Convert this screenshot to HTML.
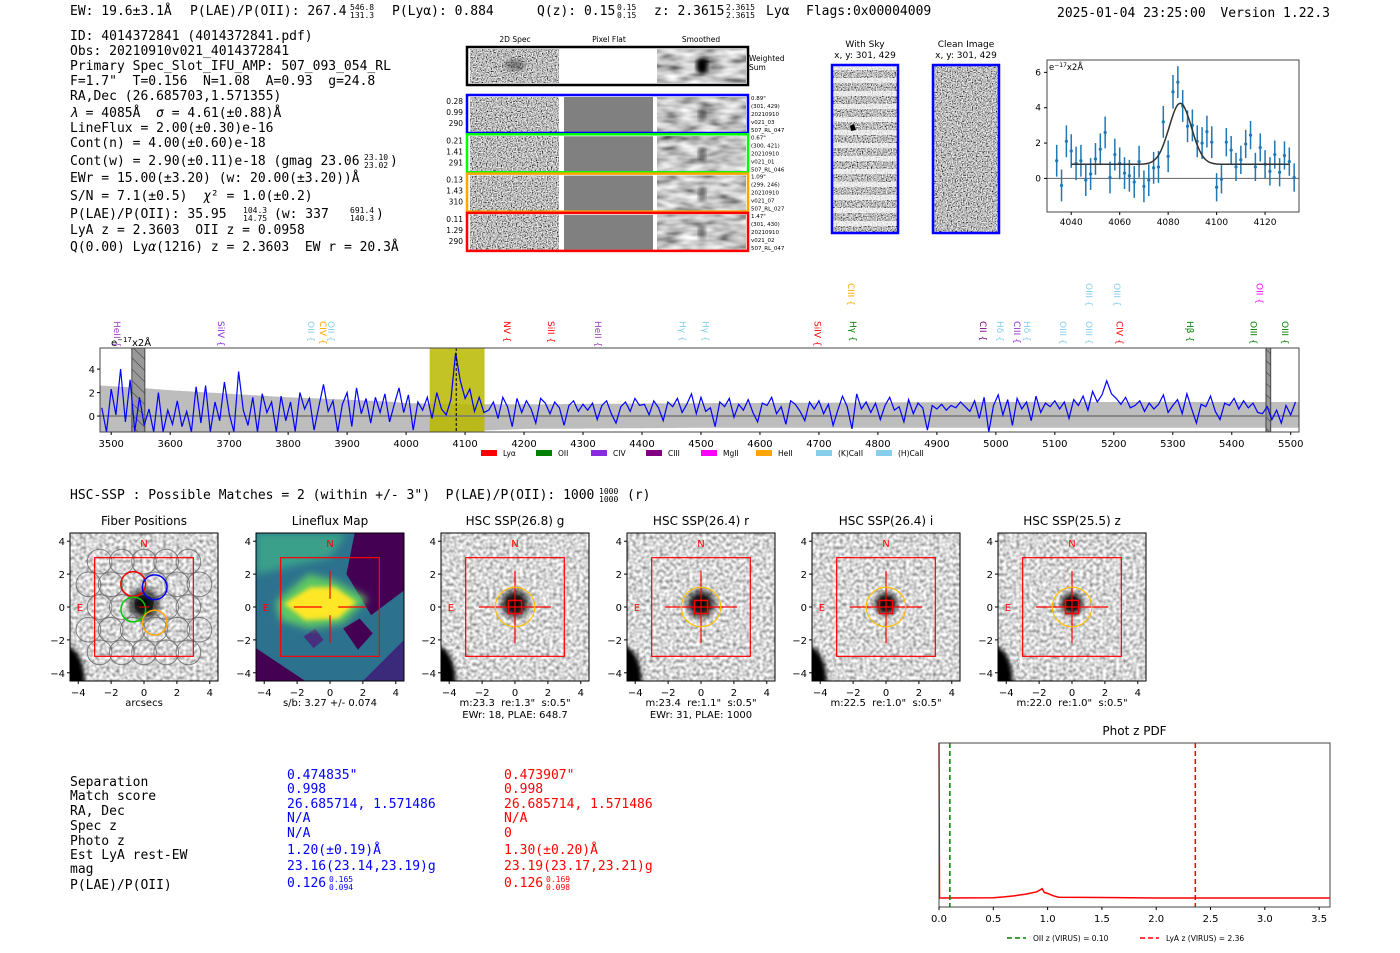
<!DOCTYPE html>
<html><head><meta charset="utf-8">
<style>
html,body{margin:0;padding:0;background:#fff;}
svg{display:block;}
text{white-space:pre;}
.mono{font-family:"DejaVu Sans Mono","Liberation Mono",monospace;font-size:13px;}
.sans{font-family:"DejaVu Sans","Liberation Sans",sans-serif;}
</style></head>
<body>
<svg id="fig" width="1400" height="953" viewBox="0 0 1400 953" xmlns="http://www.w3.org/2000/svg" xml:space="preserve" fill="#000">
<defs>
<filter id="nz" x="0" y="0" width="1" height="1"><feTurbulence type="fractalNoise" baseFrequency="0.8" numOctaves="1" seed="4"/><feColorMatrix type="matrix" values="2.2 0 0 0 -0.6  2.2 0 0 0 -0.6  2.2 0 0 0 -0.6  0 0 0 0 1"/></filter>
<filter id="sm" x="0" y="0" width="1" height="1"><feTurbulence type="fractalNoise" baseFrequency="0.05 0.14" numOctaves="2" seed="7"/><feColorMatrix type="matrix" values="1.3 0 0 0 -0.1  1.3 0 0 0 -0.1  1.3 0 0 0 -0.1  0 0 0 0 1"/></filter>
<filter id="cn" x="0" y="0" width="1" height="1"><feTurbulence type="fractalNoise" baseFrequency="0.3" numOctaves="1" seed="11"/><feColorMatrix type="matrix" values="1.4 0 0 0 -0.02  1.4 0 0 0 -0.02  1.4 0 0 0 -0.02  0 0 0 0 1"/></filter>
<filter id="bl4"><feGaussianBlur stdDeviation="4"/></filter>
<filter id="bl2"><feGaussianBlur stdDeviation="2"/></filter>
<pattern id="stripes" width="10" height="13" patternUnits="userSpaceOnUse"><rect x="0" y="0" width="10" height="5" fill="#fff" fill-opacity="0.7"/></pattern>
<pattern id="hatch" width="8" height="8" patternUnits="userSpaceOnUse" patternTransform="rotate(-45)"><rect width="8" height="8" fill="#999"/><line x1="0" y1="0" x2="0" y2="8" stroke="#333" stroke-width="1"/></pattern>
<radialGradient id="blob"><stop offset="0" stop-color="#000" stop-opacity="1"/><stop offset="0.45" stop-color="#000" stop-opacity="0.85"/><stop offset="1" stop-color="#000" stop-opacity="0"/></radialGradient>
</defs>

<!-- HEADER -->
<g class="mono">
<text x="70" y="15">EW: 19.6±3.1Å</text>
<text x="190" y="15">P(LAE)/P(OII): 267.4</text>
<text x="350" y="10" font-size="8">546.8</text><text x="350" y="18" font-size="8">131.3</text>
<text x="392" y="15">P(Lyα): 0.884</text>
<text x="537" y="15">Q(z): 0.15</text>
<text x="617" y="10" font-size="8">0.15</text><text x="617" y="18" font-size="8">0.15</text>
<text x="654" y="15">z: 2.3615</text>
<text x="726" y="10" font-size="8">2.3615</text><text x="726" y="18" font-size="8">2.3615</text>
<text x="766" y="15">Lyα</text>
<text x="806" y="15">Flags:0x00004009</text>
<text x="1057" y="17">2025-01-04 23:25:00</text>
<text x="1330" y="17" text-anchor="end">Version 1.22.3</text>
</g>

<!-- LEFT INFO BLOCK -->
<g class="mono">
<text x="70" y="40">ID: 4014372841 (4014372841.pdf)</text>
<text x="70" y="55">Obs: 20210910v021_4014372841</text>
<text x="70" y="70">Primary Spec_Slot_IFU_AMP: 507_093_054_RL</text>
<text x="70" y="85">F=1.7"  T=0.156  N=1.08  A=0.93  g=24.8</text>
<text x="70" y="100">RA,Dec (26.685703,1.571355)</text>
<text x="70" y="117"><tspan font-style="italic">λ</tspan> = 4085Å  <tspan font-style="italic">σ</tspan> = 4.61(±0.88)Å</text>
<text x="70" y="132">LineFlux = 2.00(±0.30)e-16</text>
<text x="70" y="147">Cont(n) = 4.00(±0.60)e-18</text>
<text x="70" y="165">Cont(w) = 2.90(±0.11)e-18 (gmag 23.06</text>
<text x="364" y="160" font-size="8">23.10</text><text x="364" y="168" font-size="8">23.02</text><text x="390" y="165">)</text>
<text x="70" y="182">EWr = 15.00(±3.20) (w: 20.00(±3.20))Å</text>
<text x="70" y="200">S/N = 7.1(±0.5)  <tspan font-style="italic">χ</tspan>² = 1.0(±0.2)</text>
<text x="70" y="218">P(LAE)/P(OII): 35.95</text>
<text x="243" y="213" font-size="8">104.3</text><text x="243" y="221" font-size="8">14.75</text>
<text x="274" y="218">(w: 337</text>
<text x="350" y="213" font-size="8">691.4</text><text x="350" y="221" font-size="8">140.3</text><text x="376" y="218">)</text>
<text x="70" y="234">LyA z = 2.3603  OII z = 0.0958</text>
<text x="70" y="251">Q(0.00) Ly<tspan font-style="italic">α</tspan>(1216) z = 2.3603  EW r = 20.3Å</text>
</g>

<!-- 2D SPECTRA PANEL -->
<g id="spec2d">
<text class="sans" font-size="7.5" x="515" y="42" text-anchor="middle">2D Spec</text>
<text class="sans" font-size="7.5" x="609" y="42" text-anchor="middle">Pixel Flat</text>
<text class="sans" font-size="7.5" x="701" y="42" text-anchor="middle">Smoothed</text>
<g>
<rect x="470" y="49" width="89" height="34" filter="url(#nz)"/>
<rect x="657" y="49" width="89" height="34" filter="url(#sm)"/>
<ellipse cx="702" cy="66" rx="6" ry="8" fill="#000" filter="url(#bl2)"/>
<ellipse cx="515" cy="65" rx="10" ry="6" fill="#000" opacity="0.35" filter="url(#bl2)"/>
<rect x="467" y="47" width="281" height="38" fill="none" stroke="#000" stroke-width="2.5"/>
<text class="sans" font-size="7.5" x="749" y="61">Weighted</text><text class="sans" font-size="7.5" x="749" y="70">Sum</text>
</g>
</g>

<!-- SKY CUTOUTS -->
<g>
<text class="sans" font-size="9" x="865" y="47" text-anchor="middle">With Sky</text>
<text class="sans" font-size="9" x="865" y="58" text-anchor="middle">x, y: 301, 429</text>
<rect x="832" y="65" width="66" height="168" filter="url(#nz)"/>
<rect x="832" y="65" width="66" height="168" fill="url(#stripes)"/>
<path d="M850 126 l4 -2 l2 6 l-5 1z" fill="#000"/>
<rect x="832" y="65" width="66" height="168" fill="none" stroke="#0000ff" stroke-width="2.5"/>
</g>
<g>
<text class="sans" font-size="9" x="966" y="47" text-anchor="middle">Clean Image</text>
<text class="sans" font-size="9" x="966" y="58" text-anchor="middle">x, y: 301, 429</text>
<rect x="933" y="65" width="66" height="168" filter="url(#nz)"/>
<rect x="933" y="65" width="66" height="168" fill="none" stroke="#0000ff" stroke-width="2.5"/>
</g>

<g id="fitplot"></g>
<g id="spectrum"></g>

<g class="mono">
<text x="70" y="499">HSC-SSP : Possible Matches = 2 (within +/- 3")  P(LAE)/P(OII): 1000</text>
<text x="599" y="494" style="font-size:8px">1000</text><text x="599" y="502" style="font-size:8px">1000</text>
<text x="627" y="499">(r)</text>
</g>

<g id="cutouts"></g>

<!-- MATCH TABLE -->
<g class="mono">
<g>
<text x="70" y="786">Separation</text><text x="70" y="800">Match score</text><text x="70" y="815">RA, Dec</text>
<text x="70" y="830">Spec z</text><text x="70" y="845">Photo z</text><text x="70" y="859">Est LyA rest-EW</text>
<text x="70" y="873">mag</text><text x="70" y="889">P(LAE)/P(OII)</text>
</g>
<g fill="#0000ff">
<text x="287" y="779">0.474835"</text><text x="287" y="793">0.998</text>
<text x="287" y="808">26.685714, 1.571486</text><text x="287" y="822">N/A</text>
<text x="287" y="837">N/A</text><text x="287" y="854">1.20(±0.19)Å</text>
<text x="287" y="870">23.16(23.14,23.19)g</text><text x="287" y="887">0.126</text>
<text x="329" y="882" font-size="8">0.165</text><text x="329" y="890" font-size="8">0.094</text>
</g>
<g fill="#ff0000">
<text x="504" y="779">0.473907"</text><text x="504" y="793">0.998</text>
<text x="504" y="808">26.685714, 1.571486</text><text x="504" y="822">N/A</text>
<text x="504" y="837">0</text><text x="504" y="854">1.30(±0.20)Å</text>
<text x="504" y="870">23.19(23.17,23.21)g</text><text x="504" y="887">0.126</text>
<text x="546" y="882" font-size="8">0.169</text><text x="546" y="890" font-size="8">0.098</text>
</g>
</g>

<g id="pdfplot"></g>
</svg>

<script>
// ---------- DATA ----------
const specStart = 3484, specStep = 8;
const specFlux = [
0.7,-1.5,2.3,0.1,4.0,-0.5,3.1,-1.3,1.6,-0.8,0.6,-1.6,2.0,-1.5,0.5,-0.7,1.3,-0.9,0.4,-1.4,2.5,-0.6,2.6,-1.4,1.2,-0.4,2.9,0.2,
-1.5,3.8,0.5,-0.8,1.6,-1.4,1.9,0.3,1.2,-1.5,1.7,-0.4,1.2,-1.3,2.0,0.6,1.5,-1.2,0.8,2.7,0.4,1.3,-1.4,1.0,2.0,
-0.9,2.4,0.2,1.5,-0.6,1.6,0.3,1.9,-0.5,1.0,2.4,0.3,1.8,-1.2,1.2,0.5,1.6,-0.2,2.0,0.6,0.1,1.4,5.4,3.0,1.5,
2.3,0.4,1.6,0.3,0.5,1.2,-0.2,1.6,0.8,-0.9,1.5,0.3,1.3,0.6,-0.6,1.5,1.1,0.2,1.2,0.7,-0.8,0.9,1.3,0.4,1.0,
0.5,1.1,-0.3,0.9,1.3,0.2,-0.6,0.8,1.2,0.4,1.5,0.9,1.0,0.1,1.3,0.7,-0.4,1.2,0.8,1.5,0.3,1.0,1.9,0.2,1.6,
0.4,0.7,-0.9,1.2,0.8,1.5,-0.1,1.0,0.5,1.4,0.3,-0.5,1.1,0.9,1.6,0.2,0.8,-0.7,1.3,1.0,0.4,-0.4,1.2,0.6,1.3,
0.2,1.0,-0.8,0.5,1.7,0.8,-1.1,1.9,0.6,1.2,0.3,1.1,-0.3,0.9,1.6,0.5,0.8,-0.5,1.4,0.2,1.1,0.7,-1.2,0.9,0.6,
1.0,0.5,0.9,0.7,1.2,0.8,0.4,1.3,-0.2,1.6,-1.5,0.9,1.8,0.1,1.4,-0.8,1.5,0.6,1.2,-0.4,1.7,0.3,1.1,0.8,1.3,
0.6,1.2,-0.2,1.4,0.9,1.7,0.5,2.1,1.2,1.8,3.0,1.9,1.5,1.0,1.6,0.7,0.9,1.3,0.4,1.1,0.6,1.0,1.8,0.3,0.9,
1.4,0.2,1.9,0.6,-0.6,1.0,0.8,1.7,0.4,-0.3,1.1,0.9,1.5,0.6,1.3,0.7,1.1,0.3,0.2,0.8,-0.3,0.5,-0.6,0.9,0.1,1.2];
const errWave = [3481,3550,3600,3700,3800,3900,3980,4000,4100,4200,4500,4520,5000,5500,5514];
const errHi = [2.6,2.4,2.2,1.9,1.6,1.4,1.2,1.1,1.0,1.0,1.1,1.1,1.2,1.2,1.2];
const errLo = [-2.0,-2.0,-2.0,-2.0,-1.8,-1.6,-1.5,-1.4,-1.3,-1.1,-1.0,-1.0,-1.0,-1.0,-1.0];
const specXTicks = [3500,3600,3700,3800,3900,4000,4100,4200,4300,4400,4500,4600,4700,4800,4900,5000,5100,5200,5300,5400,5500];
const specYTicks = [0,2,4];
const lineNames = ["HeII","SiIV","OII","CIV","OII","NV","SiII","HeII","Hγ","Hγ","CIII","SiIV","Hγ","CII","Hδ","CIII","Hδ","OIII","OIII","OIII","OIII","CIV","Hβ","OII","OIII","OIII"];
const lineWaves = [3510,3686,3839,3859,3873,4171,4246,4325,4469,4508,4754,4698,4758,4978,5007,5036,5053,5114,5158,5158,5205,5210,5329,5447,5437,5490];
const lineColors = ["#a040c0","#8a2be2","#87ceeb","#ffa500","#87ceeb","#ff0000","#ff0000","#a040c0","#87ceeb","#87ceeb","#ffa500","#ff0000","#008000","#800080","#87ceeb","#9932cc","#87ceeb","#87ceeb","#87ceeb","#87ceeb","#87ceeb","#ff0000","#008000","#ff00ff","#008000","#008000"];
const lineHigh = [0,0,0,0,0,0,0,0,0,0,1,0,0,0,0,0,0,0,0,1,1,0,0,1,0,0];
const legendNames = ["Lyα","OII","CIV","CIII","MgII","HeII","(K)CaII","(H)CaII"];
const legendColors = ["#ff0000","#008000","#8a2be2","#800080","#ff00ff","#ffa500","#87ceeb","#87ceeb"];

const fitWave = [4034,4036,4038,4040,4042,4044,4046,4048,4050,4052,4054,4056,4058,4060,4062,4064,4066,4068,4070,4072,4074,4076,4078,4080,4082,4084,4086,4088,4090,4092,4094,4096,4098,4100,4102,4104,4106,4108,4110,4112,4114,4116,4118,4120,4122,4124,4126,4128,4130,4132];
const fitFlux = [1.0,-0.4,2.1,1.55,0.85,1.0,-0.1,0.25,1.1,1.65,2.6,0.05,1.35,0.85,0.3,0.15,-0.2,0.95,-0.45,-0.1,0.6,0.65,3.2,1.25,4.9,5.45,4.1,2.95,3.0,2.1,2.0,2.65,2.05,-0.5,-0.05,2.05,1.6,0.65,1.05,1.95,2.45,0.65,1.75,0.8,0.4,1.35,0.35,1.3,0.95,0.05];
const fitErr = [0.9,0.9,0.9,0.95,0.95,0.9,0.9,0.9,0.9,0.9,0.9,0.9,0.9,0.9,0.9,0.9,0.9,0.9,0.9,0.9,0.9,0.9,0.9,0.9,0.95,0.9,0.9,0.9,0.9,0.9,0.9,0.9,0.9,0.8,0.8,0.8,0.8,0.8,0.8,0.8,0.8,0.8,0.8,0.8,0.8,0.8,0.8,0.8,0.8,0.8];
const fitParams = [4085, 4.61, 3.45, 0.8]; // center, sigma, amplitude, continuum
const fitXTicks = [4040,4060,4080,4100,4120];
const fitYTicks = [0,2,4,6];

const pdfZ = [0,0.005,0.02,0.5,0.6,0.7,0.8,0.9,0.95,0.97,1.0,1.05,1.1,1.5,2.0,3.6];
const pdfVal = [1.0,0.0,0.0,0.002,0.007,0.015,0.025,0.04,0.06,0.035,0.03,0.015,0.005,0.003,0.0,0.0];
const pdfXTicks = [0.0,0.5,1.0,1.5,2.0,2.5,3.0,3.5];
const pdfMarkers = [0.10, 2.36];

const cutTitles = ["Fiber Positions","Lineflux Map","HSC SSP(26.8) g","HSC SSP(26.4) r","HSC SSP(26.4) i","HSC SSP(25.5) z"];
const cutCap1 = ["arcsecs","s/b: 3.27 +/- 0.074","m:23.3  re:1.3\"  s:0.5\"","m:23.4  re:1.1\"  s:0.5\"","m:22.5  re:1.0\"  s:0.5\"","m:22.0  re:1.0\"  s:0.5\""];
const cutCap2 = ["","","EWr: 18, PLAE: 648.7","EWr: 31, PLAE: 1000","",""];
const cutTicks = [-4,-2,0,2,4];
const fiberColX = [-0.65,0.65,-0.65,0.65];
const fiberColY = [1.4,1.2,-0.15,-0.95];
const fiberColC = ["#ff0000","#0000ff","#00cc00","#ffa500"];

// ---------- HELPERS ----------
const NS = "http://www.w3.org/2000/svg";
function mk(tag, parent, attrs){const e=document.createElementNS(NS,tag);for(const k in attrs)e.setAttribute(k,attrs[k]);parent.appendChild(e);return e;}
function txt(parent, x, y, s, size, anchor, color){const t=mk("text",parent,{x:x,y:y,"font-size":size,"text-anchor":anchor||"start","class":"sans",fill:color||"#000"});t.textContent=s;return t;}
function interp(xs, ys, x){if(x<=xs[0])return ys[0];for(let i=1;i<xs.length;i++){if(x<=xs[i]){const f=(x-xs[i-1])/(xs[i]-xs[i-1]);return ys[i-1]+f*(ys[i]-ys[i-1]);}}return ys[ys.length-1];}

// ---------- 2D spectra rows ----------
(function(){
  const g=document.getElementById("spec2d");
  const rowColors=["#0000ff","#00ff00","#ffa500","#ff0000"];
  const rowL=[["0.28","0.99","290"],["0.21","1.41","291"],["0.13","1.43","310"],["0.11","1.29","290"]];
  const rowR=[["0.89\"","(301, 429)","20210910","v021_03","507_RL_047"],["0.67\"","(300, 421)","20210910","v021_01","507_RL_046"],["1.09\"","(299, 246)","20210910","v021_07","507_RL_027"],["1.47\"","(301, 430)","20210910","v021_02","507_RL_047"]];
  for(let r=0;r<4;r++){
    const y=95+r*39.3;
    const row=mk("g",g,{});
    
    
    mk("rect",row,{x:470,y:y+2,width:89,height:35,filter:"url(#nz)"});
    mk("rect",row,{x:564,y:y+2,width:89,height:35,fill:"#808080"});
    mk("rect",row,{x:657,y:y+2,width:89,height:35,filter:"url(#sm)"});
    mk("ellipse",row,{cx:702,cy:y+20,rx:4,ry:7,fill:"#000",opacity:0.45,filter:"url(#bl2)"});
    mk("rect",row,{x:467,y:y,width:281,height:38,fill:"none",stroke:rowColors[r],"stroke-width":2.5});
    for(let k=0;k<3;k++) txt(row,463,y+9+k*11,rowL[r][k],7.5,"end");
    for(let k=0;k<5;k++) txt(row,751,y+5+k*8,rowR[r][k],5.5,"start");
  }
})();

// ---------- Line fit plot ----------
(function(){
  const g=document.getElementById("fitplot");
  const L=1047,R=1299,T=60,B=212;
  const x0=4030,x1=4134,y0=-1.9,y1=6.7;
  const X=w=>L+(w-x0)/(x1-x0)*(R-L), Y=v=>B-(v-y0)/(y1-y0)*(B-T);
  mk("line",g,{x1:L,x2:R,y1:Y(0),y2:Y(0),stroke:"#777","stroke-width":1.2});
  for(let i=0;i<fitWave.length;i++){
    const p=mk("g",g,{});
    
    
    mk("line",p,{x1:X(fitWave[i]),x2:X(fitWave[i]),y1:Y(fitFlux[i]-fitErr[i]),y2:Y(fitFlux[i]+fitErr[i]),stroke:"#1f77b4","stroke-width":1.5});
    mk("circle",p,{cx:X(fitWave[i]),cy:Y(fitFlux[i]),r:1.6,fill:"#1f77b4"});
  }
  let d="";
  for(let w=4040;w<=4130;w+=0.5){const v=fitParams[3]+fitParams[2]*Math.exp(-0.5*Math.pow((w-fitParams[0])/fitParams[1],2));d+=(d?"L":"M")+X(w).toFixed(1)+" "+Y(v).toFixed(1);}
  const m=mk("path",g,{d:d,fill:"none",stroke:"#333","stroke-width":1.5});
  
  
  mk("rect",g,{x:L,y:T,width:R-L,height:B-T,fill:"none",stroke:"#444","stroke-width":1});
  fitXTicks.forEach(t=>{mk("line",g,{x1:X(t),x2:X(t),y1:B,y2:B+3,stroke:"#000"});txt(g,X(t),B+13,String(t),9,"middle");});
  fitYTicks.forEach(t=>{mk("line",g,{x1:L-3,x2:L,y1:Y(t),y2:Y(t),stroke:"#000"});txt(g,L-6,Y(t)+3,String(t),9,"end");});
  const u=txt(g,L+2,T+10,"",8.5,"start");u.innerHTML='e<tspan dy="-3" font-size="6">−17</tspan><tspan dy="3">x2Å</tspan>';
})();

// ---------- Full spectrum ----------
(function(){
  const g=document.getElementById("spectrum");
  const L=100,R=1299,T=348,B=432;
  const x0=3481,x1=5514,y0=-1.36,y1=5.8;
  const X=w=>L+(w-x0)/(x1-x0)*(R-L), Y=v=>B-(Math.max(y0,Math.min(y1,v))-y0)/(y1-y0)*(B-T);
  const clip=mk("clipPath",g,{id:"specclip"});mk("rect",clip,{x:L,y:T,width:R-L,height:B-T});
  const inner=mk("g",g,{"clip-path":"url(#specclip)"});
  let up="",lo="";
  for(let w=x0;w<=x1;w+=4){up+=(up?"L":"M")+X(w).toFixed(1)+" "+Y(interp(errWave,errHi,w)).toFixed(1);}
  for(let w=x1;w>=x0;w-=4){lo+="L"+X(w).toFixed(1)+" "+Y(interp(errWave,errLo,w)).toFixed(1);}
  const band=mk("path",inner,{d:up+lo+"Z",fill:"#bdbdbd"});
  
  
  const reg=mk("rect",inner,{x:X(4040),y:T,width:X(4133)-X(4040),height:B-T,fill:"#b8b800",opacity:0.85});
  
  
  [[3535,3557],[5458,5466]].forEach(b=>{const h=mk("rect",inner,{x:X(b[0]),y:T,width:X(b[1])-X(b[0]),height:B-T,fill:"url(#hatch)",stroke:"#444","stroke-width":1});});
  mk("line",inner,{x1:L,x2:R,y1:Y(0),y2:Y(0),stroke:"#777","stroke-width":1.5});
  let d="";
  for(let i=0;i<specFlux.length;i++){d+=(i?"L":"M")+X(specStart+i*specStep).toFixed(1)+" "+Y(specFlux[i]).toFixed(1);}
  const ln=mk("path",inner,{d:d,fill:"none",stroke:"#0000ff","stroke-width":1.2});
  
  
  mk("line",inner,{x1:X(4085),x2:X(4085),y1:T,y2:B,stroke:"#000","stroke-width":1,"stroke-dasharray":"3,2"});
  mk("rect",g,{x:L,y:T,width:R-L,height:B-T,fill:"none",stroke:"#444","stroke-width":1});
  specXTicks.forEach(t=>{mk("line",g,{x1:X(t),x2:X(t),y1:B,y2:B+3,stroke:"#000"});txt(g,X(t),B+15,String(t),10,"middle");});
  specYTicks.forEach(t=>{mk("line",g,{x1:L-3,x2:L,y1:Y(t),y2:Y(t),stroke:"#000"});txt(g,L-5,Y(t)+4,String(t),10,"end");});
  const u=txt(g,111,346,"",10,"start");u.innerHTML='e<tspan dy="-4" font-size="7">−17</tspan><tspan dy="4">x2Å</tspan>';
  for(let i=0;i<lineNames.length;i++){
    const x=X(lineWaves[i]), y=lineHigh[i]?283:321;
    const t=mk("text",g,{x:x,y:y,"font-size":9,"class":"sans",fill:lineColors[i],transform:"rotate(90 "+x+" "+y+")",dy:"3"});
    t.textContent=lineNames[i]+" {";
    
    
  }
  for(let i=0;i<legendNames.length;i++){
    const lx=481+i*55+(i>5?(i-5)*5:0);
    const e=mk("g",g,{});
    
    
    mk("rect",e,{x:lx,y:450,width:16,height:6,fill:legendColors[i]});
    txt(e,lx+22,456,legendNames[i],7.5,"start");
  }
})();

// ---------- Cutouts ----------
(function(){
  const g=document.getElementById("cutouts");
  const lefts=[70,256,441,627,812,998], T=533, S=148, sc=S/9;
  for(let p=0;p<6;p++){
    const L=lefts[p], cx=L+S/2, cy=T+S/2;
    const X=a=>cx+a*sc, Y=a=>cy-a*sc;
    const pg=mk("g",g,{});
    
    
    const cp=mk("clipPath",pg,{id:"cclip"+p});mk("rect",cp,{x:L,y:T,width:S,height:S});
    const im=mk("g",pg,{"clip-path":"url(#cclip"+p+")"});
    if(p===1){
      mk("rect",im,{x:L,y:T,width:S,height:S,fill:"#2c728e"});
      mk("polygon",im,{points:[[X(-4.5),Y(4.5)],[X(1),Y(4.5)],[X(0),Y(3)],[X(-4.5),Y(2)]].join(" "),fill:"#3aa08a",filter:"url(#bl4)"});
      mk("polygon",im,{points:[[X(1.5),Y(4.5)],[X(4.5),Y(4.5)],[X(4.5),Y(1)],[X(2.5),Y(-0.5)],[X(1),Y(2)]].join(" "),fill:"#440154"});
      mk("polygon",im,{points:[[X(-4.5),Y(-2.5)],[X(-1.5),Y(-4.5)],[X(-4.5),Y(-4.5)]].join(" "),fill:"#440154"});
      mk("polygon",im,{points:[[X(3),Y(-3.5)],[X(4.5),Y(-2)],[X(4.5),Y(-4.5)],[X(2),Y(-4.5)]].join(" "),fill:"#3b2a7a"});
      mk("polygon",im,{points:[[X(0.8),Y(-1.3)],[X(1.8),Y(-0.7)],[X(2.6),Y(-1.6)],[X(1.7),Y(-2.6)]].join(" "),fill:"#440154"});
      mk("polygon",im,{points:[[X(-1.6),Y(-1.8)],[X(-0.9),Y(-1.3)],[X(-0.4),Y(-2)],[X(-1),Y(-2.5)]].join(" "),fill:"#46307e"});
      mk("polygon",im,{points:[[X(-3.3),Y(0.3)],[X(-1.3),Y(2)],[X(0.3),Y(1.6)],[X(2.3),Y(0.5)],[X(0.8),Y(-1)],[X(-1.3),Y(-1.3)],[X(-3),Y(-0.8)]].join(" "),fill:"#5ec962",filter:"url(#bl4)"});
      mk("polygon",im,{points:[[X(-2.8),Y(0.2)],[X(-1.2),Y(1.2)],[X(0.3),Y(1.2)],[X(1.6),Y(0.3)],[X(0.5),Y(-0.7)],[X(-1.5),Y(-0.8)]].join(" "),fill:"#fde725",filter:"url(#bl2)"});
    } else {
      mk("rect",im,{x:L,y:T,width:S,height:S,filter:"url(#cn)"});
      mk("ellipse",im,{cx:X(-4.7),cy:Y(-4.6),rx:1.1*sc,ry:2.2*sc,fill:"#000",filter:"url(#bl2)"});
      if(p>=2) mk("ellipse",im,{cx:X(-4.6),cy:Y(-4.4),rx:1.5*sc,ry:2.6*sc,fill:"none",stroke:"#eee","stroke-dasharray":"2,2","stroke-width":1});
      const rb=p===0?1.2:(p===4||p===5?0.9:1.1);
      mk("circle",im,{cx:X(0),cy:Y(0.2),r:rb*sc,fill:"url(#blob)"});
    }
    if(p===0){
      for(let ry=-3;ry<=3;ry++){for(let cxi=-3;cxi<=3;cxi++){
        const fx=cxi*1.35+(Math.abs(ry)%2?0.67:0), fy=ry*1.38;
        if(Math.hypot(fx,fy)>4.0) continue;
        mk("circle",pg,{cx:X(fx),cy:Y(fy),r:0.75*sc,fill:"none",stroke:"#666","stroke-width":1,opacity:0.8});
      }}
      for(let k=0;k<4;k++){const c=mk("circle",pg,{cx:X(fiberColX[k]),cy:Y(fiberColY[k]),r:0.75*sc,fill:"none",stroke:fiberColC[k],"stroke-width":1.5});}
      mk("line",pg,{x1:X(-0.3),x2:X(0.3),y1:Y(0),y2:Y(0),stroke:"#ff0000"});
    } else {
      mk("line",pg,{x1:X(-2.2),x2:X(-0.5),y1:Y(0),y2:Y(0),stroke:"#ff0000","stroke-width":1.2});
      mk("line",pg,{x1:X(0.5),x2:X(2.2),y1:Y(0),y2:Y(0),stroke:"#ff0000","stroke-width":1.2});
      mk("line",pg,{x1:X(0),x2:X(0),y1:Y(2.2),y2:Y(0.5),stroke:"#ff0000","stroke-width":1.2});
      mk("line",pg,{x1:X(0),x2:X(0),y1:Y(-0.5),y2:Y(-2.2),stroke:"#ff0000","stroke-width":1.2});
      if(p>=2){
        mk("line",pg,{x1:X(-0.5),x2:X(0.5),y1:Y(0),y2:Y(0),stroke:"#ff0000","stroke-width":1.2});
        mk("line",pg,{x1:X(0),x2:X(0),y1:Y(0.5),y2:Y(-0.5),stroke:"#ff0000","stroke-width":1.2});
        mk("rect",pg,{x:X(-0.4),y:Y(0.4),width:0.8*sc,height:0.8*sc,fill:"none",stroke:"#ff0000","stroke-width":1.5});
        mk("circle",pg,{cx:X(0),cy:Y(0),r:1.2*sc,fill:"none",stroke:"#ffc000","stroke-width":1.2});
      }
    }
    mk("rect",pg,{x:X(-3),y:Y(3),width:6*sc,height:6*sc,fill:"none",stroke:"#ff0000","stroke-width":1.2});
    txt(pg,X(0),Y(3.9)+4,"N",10,"middle","#ff0000");
    txt(pg,X(-3.9),Y(0)+4,"E",10,"middle","#ff0000");
    mk("rect",pg,{x:L,y:T,width:S,height:S,fill:"none",stroke:"#000","stroke-width":1});
    cutTicks.forEach(t=>{
      mk("line",pg,{x1:X(t),x2:X(t),y1:T+S,y2:T+S+3,stroke:"#000"});
      txt(pg,X(t),T+S+15,(t<0?"−":"")+Math.abs(t),10,"middle");
      mk("line",pg,{x1:L-3,x2:L,y1:Y(t),y2:Y(t),stroke:"#000"});
      txt(pg,L-5,Y(t)+4,(t<0?"−":"")+Math.abs(t),10,"end");
    });
    const tt=txt(pg,cx,T-8,cutTitles[p],12,"middle");
    
    
    txt(pg,cx,T+S+25,cutCap1[p],10,"middle");
    if(cutCap2[p]) txt(pg,cx,T+S+37,cutCap2[p],10,"middle");
  }
})();

// ---------- Phot z PDF ----------
(function(){
  const g=document.getElementById("pdfplot");
  const L=939,R=1330,T=743,B=907;
  const x0=0,x1=3.6,y0=-0.058,y1=1.0;
  const X=z=>L+(z-x0)/(x1-x0)*(R-L), Y=v=>B-(v-y0)/(y1-y0)*(B-T);
  txt(g,(L+R)/2,735,"Phot z PDF",12,"middle");
  let d="";
  for(let i=0;i<pdfZ.length;i++) d+=(i?"L":"M")+X(pdfZ[i]).toFixed(1)+" "+Y(pdfVal[i]).toFixed(1);
  const p=mk("path",g,{d:d,fill:"none",stroke:"#ff0000","stroke-width":1.5});
  
  
  const mc=["#008000","#ff0000"];
  pdfMarkers.forEach((z,i)=>{const l=mk("line",g,{x1:X(z),x2:X(z),y1:T,y2:B,stroke:mc[i],"stroke-width":1.5,"stroke-dasharray":"5,3"});});
  mk("rect",g,{x:L,y:T,width:R-L,height:B-T,fill:"none",stroke:"#444","stroke-width":1});
  pdfXTicks.forEach(t=>{mk("line",g,{x1:X(t),x2:X(t),y1:B,y2:B+3,stroke:"#000"});txt(g,X(t),B+15,t.toFixed(1),10,"middle");});
  const lg=mk("g",g,{});
  
  
  mk("line",lg,{x1:1007,x2:1026,y1:938,y2:938,stroke:"#008000","stroke-width":1.5,"stroke-dasharray":"5,3"});
  txt(lg,1033,941,"OII z (VIRUS) = 0.10",7.5,"start");
  mk("line",lg,{x1:1140,x2:1159,y1:938,y2:938,stroke:"#ff0000","stroke-width":1.5,"stroke-dasharray":"5,3"});
  txt(lg,1166,941,"LyA z (VIRUS) = 2.36",7.5,"start");
})();
</script>
</body></html>
